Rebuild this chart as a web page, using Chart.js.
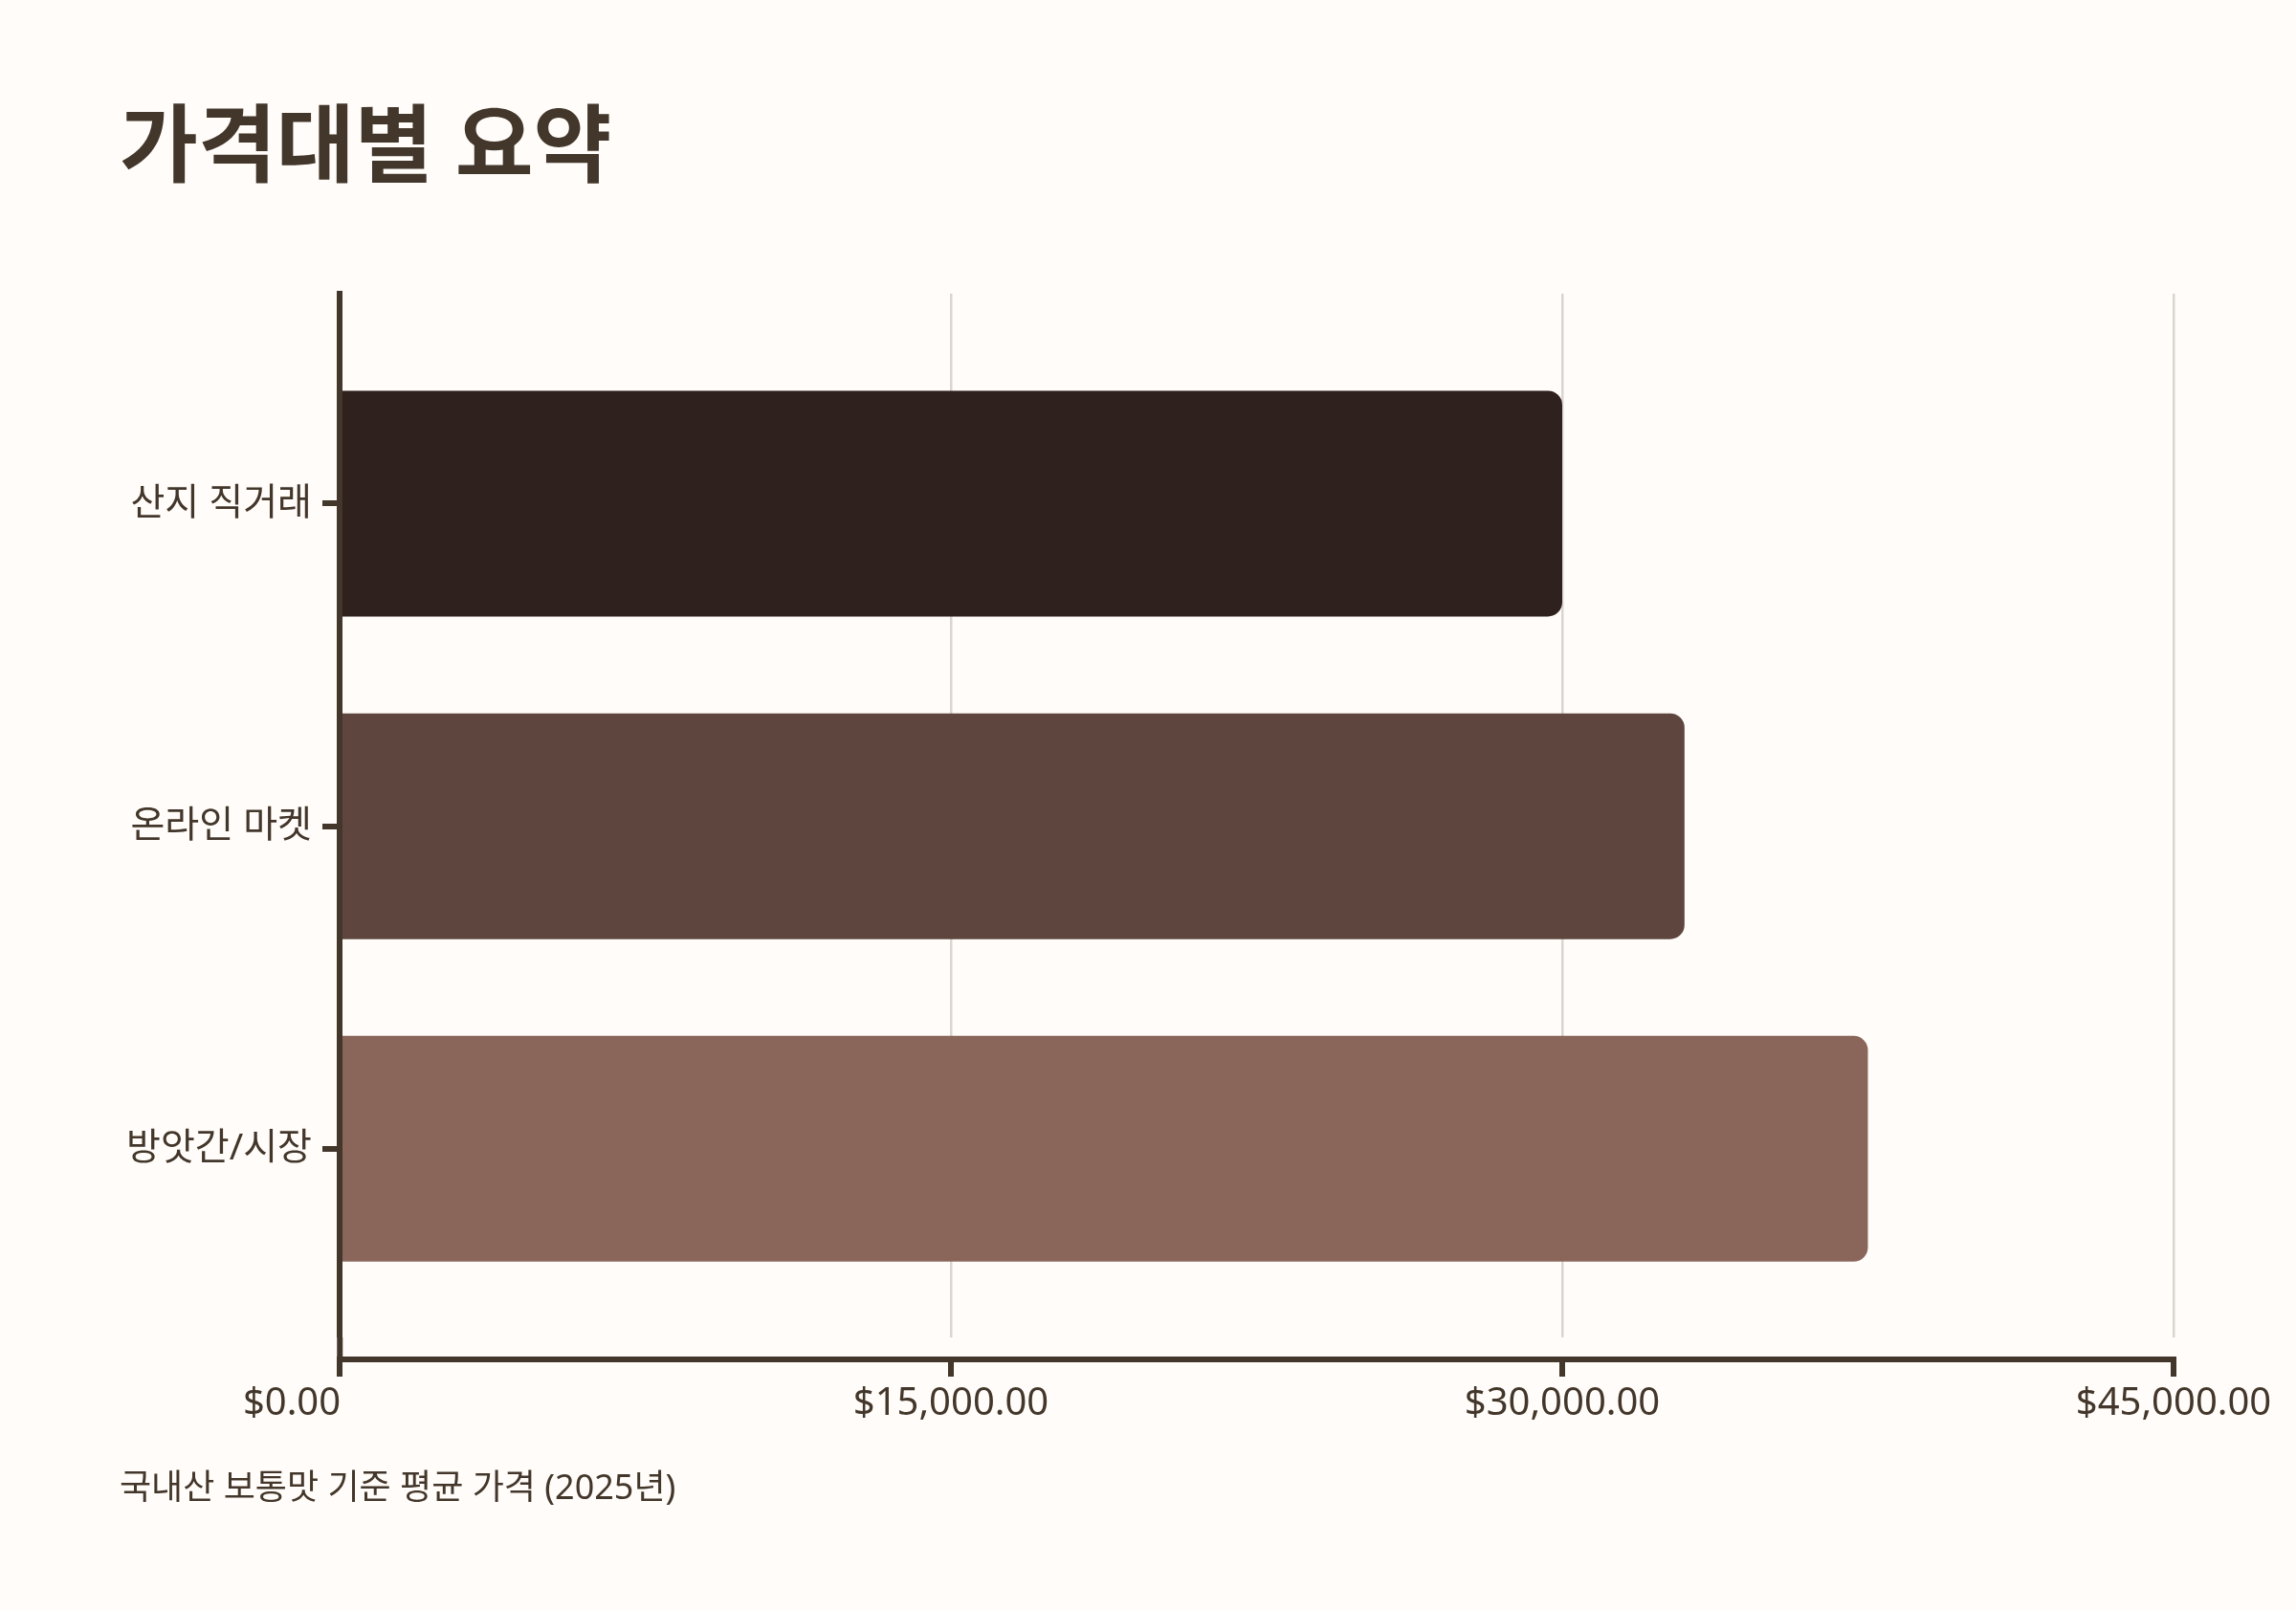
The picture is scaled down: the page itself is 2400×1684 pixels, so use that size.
<!DOCTYPE html>
<html lang="ko">
<head>
<meta charset="utf-8">
<title>가격대별 요약</title>
<script src="https://cdn.jsdelivr.net/npm/chart.js@4.4.1/dist/chart.umd.min.js"></script>
<style>
  html, body { margin: 0; padding: 0; background: #fffcf9; }
  .page { position: relative; width: 2400px; height: 1684px; overflow: hidden; }
  .chart-box { position: absolute; left: 0; top: 0; width: 2400px; height: 1684px; }
  h1 {
    position: absolute; left: 125px; top: 104px; margin: 0;
    font: 700 89px/1 'Noto Sans', 'Noto Sans CJK KR', sans-serif;
    color: #43362a;
  }
  .note {
    position: absolute; left: 125px; top: 1536px; margin: 0;
    font: 400 36px/1 'Noto Sans', 'Noto Sans CJK KR', sans-serif;
    color: #43362a;
  }
</style>
</head>
<body>
<div class="page">
  <div class="chart-box"><canvas id="priceChart"></canvas></div>
  <h1>가격대별 요약</h1>
  <p class="note">국내산 보통맛 기준 평균 가격 (2025년)</p>
</div>
<script>
/* ===== DATA ===== */
const categories = ['산지 직거래', '온라인 마켓', '방앗간/시장'];
const prices = [30000, 33000, 37500];
const priceTicks = [0, 15000, 30000, 45000];
const barColors = ['#2f211e', '#5e453d', '#8a6559'];

/* ===== STYLE ===== */
const INK = '#43362a';
const GRID = '#d9d5d0';
const FONT = "'Noto Sans', 'Noto Sans CJK KR', sans-serif";

Chart.defaults.font.family = FONT;
Chart.defaults.color = INK;

const money = v => '$' + v.toLocaleString('en-US', { minimumFractionDigits: 2, maximumFractionDigits: 2 });

/* ===== PRICE CHART ===== */
new Chart(document.getElementById('priceChart'), {
  type: 'bar',
  data: {
    datasets: [{
      label: '평균 가격',
      data: prices.map((p, i) => ({ x: p, y: i })),
      backgroundColor: barColors,
      borderRadius: 15,
      categoryPercentage: 1,
      barPercentage: 0.7,
    }]
  },
  options: {
    indexAxis: 'y',
    responsive: true,
    maintainAspectRatio: false,
    animation: false,
    layout: { padding: { top: 307, left: 0, right: 128, bottom: 163 } },
    scales: {
      // vertical gridlines + the short link between y axis and x axis
      x: {
        type: 'linear',
        position: 'bottom',
        min: priceTicks[0],
        max: priceTicks[priceTicks.length - 1],
        afterBuildTicks: s => { s.ticks = priceTicks.map(v => ({ value: v })); },
        afterFit: s => { s.height = 23; s.paddingLeft = 0; s.paddingRight = 0; },
        ticks: { display: false },
        border: { display: false },
        grid: {
          color: ctx => ctx.index === 0 ? 'rgba(0,0,0,0)' : GRID,
          lineWidth: 2.5,
          drawTicks: true,
          tickLength: 23,
          tickWidth: 6,
          tickColor: ctx => ctx.index === 0 ? INK : 'rgba(0,0,0,0)',
        }
      },
      // visible x axis line, ticks and labels
      x2: {
        type: 'linear',
        position: 'bottom',
        weight: 1,
        min: priceTicks[0],
        max: priceTicks[priceTicks.length - 1],
        afterBuildTicks: s => { s.ticks = priceTicks.map(v => ({ value: v })); },
        afterFit: s => { s.height = 100; s.paddingLeft = 0; s.paddingRight = 0; },
        ticks: {
          padding: 5,
          font: { size: 40 },
          color: INK,
          maxRotation: 0,
          // first label sits left of its tick
          callback: (v, i) => i === 0 ? money(v) + '\u2003\u2003\u2002' : money(v),
        },
        border: { display: true, color: INK, width: 6 },
        grid: {
          drawOnChartArea: false,
          drawTicks: true,
          tickLength: 18,
          lineWidth: 6,
          tickWidth: 6,
          color: INK,
          tickColor: INK,
        }
      },
      y: {
        type: 'linear',
        position: 'left',
        reverse: true,
        offset: false,
        min: -0.651,
        max: 2.585,
        afterBuildTicks: s => { s.ticks = categories.map((c, i) => ({ value: i })); },
        afterFit: s => { s.width = 355; },
        ticks: {
          padding: 11,
          font: { size: 39 },
          color: INK,
          autoSkip: false,
          callback: v => categories[v],
        },
        border: { display: true, color: INK, width: 6, z: 1 },
        grid: {
          offset: false,
          drawOnChartArea: false,
          drawTicks: true,
          tickLength: 18,
          lineWidth: 0,
          tickWidth: 6,
          tickColor: INK,
        }
      }
    },
    plugins: {
      legend: { display: false },
      tooltip: { callbacks: { label: ctx => ' ' + money(ctx.parsed.x) } }
    }
  }
});
</script>
</body>
</html>
